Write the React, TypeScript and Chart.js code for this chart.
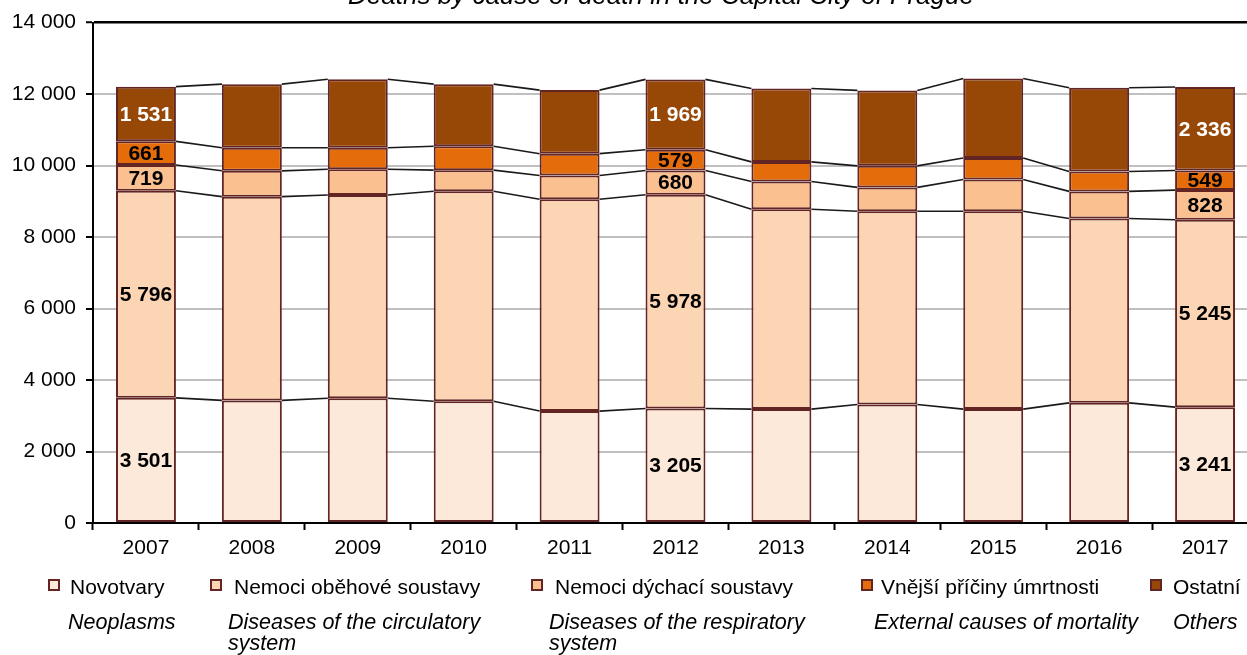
import React, { useEffect, useRef } from 'react';
import { Chart, registerables } from 'chart.js';

Chart.register(...registerables);

const YEARS = ['2007', '2008', '2009', '2010', '2011', '2012', '2013', '2014', '2015', '2016', '2017'];
const NOVOTVARY = [3501, 3430, 3492, 3408, 3131, 3205, 3186, 3316, 3186, 3361, 3241];
const OBEHOVE = [5796, 5700, 5683, 5873, 5925, 5978, 5592, 5406, 5536, 5158, 5245];
const DYCHACI = [719, 723, 722, 591, 666, 680, 778, 667, 889, 759, 828];
const VNEJSI = [661, 647, 603, 667, 611, 579, 547, 603, 603, 555, 549];
const OSTATNI = [1531, 1778, 1917, 1739, 1778, 1969, 2055, 2111, 2222, 2345, 2336];

const SERIES_CZ = ['Novotvary', 'Nemoci oběhové soustavy', 'Nemoci dýchací soustavy', 'Vnější příčiny úmrtnosti', 'Ostatní'];
const SERIES_EN = ['Neoplasms', 'Diseases of the circulatory\nsystem', 'Diseases of the respiratory\nsystem', 'External causes of mortality', 'Others'];
const LABELLED_YEARS = ['2007', '2012', '2017'];
const Y_TICKS = [0, 2000, 4000, 6000, 8000, 10000, 12000, 14000];
const TITLE = 'Deaths by cause of death in the Capital City of Prague';

const COLORS = ['#FDE9D9', '#FCD5B5', '#FAC090', '#E46C0A', '#974806'];
const BORDER = '#632523';
const FONT = '"Liberation Sans", Arial, sans-serif';

const fmt = (v: number) => String(v).replace(/\B(?=(\d{3})+(?!\d))/g, ' ');

const seriesLinesPlugin = {
  id: 'seriesLines',
  beforeDatasetsDraw(chart: any) {
    const ctx = chart.ctx;
    ctx.save();
    ctx.strokeStyle = '#1a1a1a';
    ctx.lineWidth = 1.6;
    chart.data.datasets.forEach((_: any, di: number) => {
      const meta = chart.getDatasetMeta(di);
      const els = meta.data;
      for (let i = 0; i < els.length - 1; i++) {
        const a = els[i];
        const b = els[i + 1];
        ctx.beginPath();
        ctx.moveTo(a.x + a.width / 2, a.y);
        ctx.lineTo(b.x - b.width / 2, b.y);
        ctx.stroke();
      }
    });
    ctx.restore();
  },
};

const valueLabelsPlugin = {
  id: 'valueLabels',
  afterDatasetsDraw(chart: any) {
    const ctx = chart.ctx;
    ctx.save();
    ctx.font = `bold 21px ${FONT}`;
    ctx.textAlign = 'center';
    ctx.textBaseline = 'middle';
    const n = chart.data.datasets.length;
    chart.data.datasets.forEach((ds: any, di: number) => {
      const meta = chart.getDatasetMeta(di);
      meta.data.forEach((el: any, i: number) => {
        if (!LABELLED_YEARS.includes(chart.data.labels[i])) return;
        ctx.fillStyle = di === n - 1 ? '#ffffff' : '#000000';
        ctx.fillText(fmt(ds.data[i]), el.x, (el.y + el.base) / 2 + 1);
      });
    });
    ctx.restore();
  },
};

const LEG_BOX_X = [49, 211, 532, 862, 1151];
const LEG_CZ_X = [70, 234, 555, 881, 1173];
const LEG_EN_X = [68, 228, 549, 874, 1173];

const legendTitlePlugin = {
  id: 'legendTitle',
  afterDraw(chart: any) {
    const ctx = chart.ctx;
    ctx.save();
    // title (cut off at the top as in the original)
    ctx.font = `italic 26px ${FONT}`;
    ctx.fillStyle = '#000';
    ctx.textAlign = 'center';
    ctx.textBaseline = 'alphabetic';
    ctx.fillText(TITLE, 661, 4);

    chart.data.datasets.forEach((ds: any, i: number) => {
      // box
      ctx.fillStyle = ds.backgroundColor;
      ctx.fillRect(LEG_BOX_X[i], 580, 10, 10);
      ctx.strokeStyle = BORDER;
      ctx.lineWidth = 2;
      ctx.strokeRect(LEG_BOX_X[i], 580, 10, 10);
      // czech
      ctx.fillStyle = '#000';
      ctx.textAlign = 'left';
      ctx.font = `21px ${FONT}`;
      ctx.fillText(ds.label, LEG_CZ_X[i], 594);
      // english
      ctx.font = `italic 21.5px ${FONT}`;
      SERIES_EN[i].split('\n').forEach((line, li) => {
        ctx.fillText(line, LEG_EN_X[i], 629 + li * 21);
      });
    });
    ctx.restore();
  },
};

export default function App() {
  const ref = useRef<HTMLCanvasElement | null>(null);

  useEffect(() => {
    if (!ref.current) return;
    const values = [NOVOTVARY, OBEHOVE, DYCHACI, VNEJSI, OSTATNI];
    const chart = new Chart(ref.current, {
      type: 'bar',
      data: {
        labels: YEARS,
        datasets: values.map((d, i) => ({
          label: SERIES_CZ[i],
          data: d,
          backgroundColor: COLORS[i],
          borderColor: BORDER,
          borderWidth: 2,
          borderSkipped: false,
          barPercentage: 1,
          categoryPercentage: 0.566,
        })),
      },
      options: {
        responsive: false,
        animation: false,
        devicePixelRatio: 1,
        layout: { padding: { top: 19, left: 0, right: 12, bottom: 0 }, autoPadding: false },
        plugins: {
          legend: { display: false },
          title: { display: false },
          tooltip: { enabled: false },
        },
        scales: {
          x: {
            stacked: true,
            offset: true,
            grid: {
              offset: true,
              drawOnChartArea: false,
              tickLength: 7,
              tickColor: '#000',
              tickWidth: 2,
            },
            border: { color: '#000', width: 2 },
            ticks: {
              color: '#000',
              font: { family: FONT, size: 21 },
              padding: 6,
              maxRotation: 0,
            },
            afterFit: (s: any) => {
              s.height = 132;
            },
          },
          y: {
            stacked: true,
            min: 0,
            max: 14000,
            afterBuildTicks: (s: any) => {
              s.ticks = Y_TICKS.map((v) => ({ value: v }));
            },
            grid: {
              color: (c: any) => (c.tick && c.tick.value === 14000 ? '#000' : '#C0C0C0'),
              lineWidth: (c: any) => (c.tick && c.tick.value === 14000 ? 2.5 : 2),
              tickLength: 7,
              tickColor: '#000',
              tickWidth: 2,
            },
            border: { color: '#000', width: 2 },
            ticks: {
              color: '#000',
              font: { family: FONT, size: 21 },
              padding: 10,
              callback: (v: any) => fmt(Number(v)),
            },
            afterFit: (s: any) => {
              s.width = 93;
            },
          },
        },
      },
      plugins: [seriesLinesPlugin, valueLabelsPlugin, legendTitlePlugin],
    });
    return () => chart.destroy();
  }, []);

  return (
    <div
      style={{
        position: 'fixed',
        left: 0,
        top: 0,
        width: 1247,
        height: 655,
        overflow: 'hidden',
        background: '#fff',
      }}
    >
      <canvas ref={ref} width={1270} height={655} style={{ display: 'block' }} />
    </div>
  );
}
